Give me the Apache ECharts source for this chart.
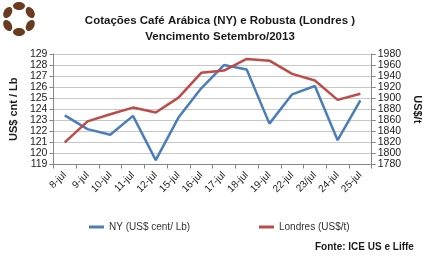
<!DOCTYPE html>
<html><head><meta charset="utf-8">
<script src="https://cdn.jsdelivr.net/npm/echarts@6/dist/echarts.min.js"></script>
<style>html,body{margin:0;padding:0;background:#fff}#c{width:431px;height:256px}</style>
</head><body><div id="c"></div>
<script>
const categories = ['8-jul','9-jul','10-jul','11-jul','12-jul','15-jul','16-jul','17-jul','18-jul','19-jul','22-jul','23/jul','24-jul','25-jul'];
const nyValues = [123.45, 122.2, 121.7, 123.4, 119.4, 123.25, 125.9, 128.0, 127.6, 122.7, 125.35, 126.1, 121.2, 124.8];
const londresValues = [1820, 1858, 1871, 1883, 1874, 1901, 1946, 1950, 1971, 1968, 1944, 1932, 1897, 1908];
const nyName = 'NY (US$ cent/ Lb)';
const londresName = 'Londres (US$/t)';

const font = 'Liberation Sans, Arial, sans-serif';
const chart = echarts.init(document.getElementById('c'), null, {renderer:'canvas'});

// coffee-bean logo (decoration)
const beans = [];
for (let i = 0; i < 6; i++) {
  const a = -Math.PI/2 + i * Math.PI/3;
  beans.push({type:'ellipse', shape:{cx:0, cy:0, rx:6, ry:4}, x: 19 + 13*Math.cos(a), y: 19 + 13*Math.sin(a), rotation: -a + Math.PI/2, style:{fill:'#6a3b20'}});
}

chart.setOption({
  animation:false,
  textStyle:{fontFamily:font},
  title:[{text:'Cotações Café Arábica (NY) e Robusta (Londres )\nVencimento Setembro/2013', left:215, top:8, textAlign:'center',
    textStyle:{fontSize:11.5, fontWeight:'bold', color:'#1a1a1a', lineHeight:16, fontFamily:font}},
    {text:'Fonte: ICE US e Liffe', left:310, top:237, textStyle:{fontSize:10, fontWeight:'bold', color:'#1a1a1a', fontFamily:font}}],
  graphic: beans,
  legend:[{data:[nyName], left:84, top:217, icon:'rect', itemWidth:15, itemHeight:3, itemGap:2,
    textStyle:{fontSize:10, color:'#333', fontFamily:font}},
    {data:[londresName], left:254, top:217, icon:'rect', itemWidth:15, itemHeight:3,
    textStyle:{fontSize:10, color:'#333', fontFamily:font}}],
  grid:{left:42, right:48, top:54, bottom:91.5, containLabel:false},
  xAxis:{type:'category', data:categories, boundaryGap:true,
    axisLine:{lineStyle:{color:'#868686'}}, axisTick:{show:true, alignWithLabel:false, length:4, lineStyle:{color:'#868686'}},
    axisLabel:{rotate:45, fontSize:10, color:'#222', margin:9, interval:0, fontFamily:font}},
  yAxis:[{type:'value', min:119, max:129, interval:1, name:'US$ cnt / Lb', nameLocation:'middle', nameGap:26, nameRotate:90,
    nameTextStyle:{fontSize:11, fontWeight:'bold', color:'#1a1a1a', fontFamily:font},
    axisLine:{show:true, lineStyle:{color:'#868686'}}, axisTick:{show:true, length:4, lineStyle:{color:'#868686'}},
    axisLabel:{fontSize:10.5, color:'#222', margin:6, fontFamily:font},
    splitLine:{lineStyle:{color:'#c8c8c8'}}},
   {type:'value', min:1780, max:1980, interval:20, name:'US$/t', nameLocation:'middle', nameGap:34, nameRotate:-90,
    nameTextStyle:{fontSize:11, fontWeight:'bold', color:'#1a1a1a', fontFamily:font},
    axisLine:{show:true, lineStyle:{color:'#868686'}}, axisTick:{show:true, length:4, lineStyle:{color:'#868686'}},
    axisLabel:{fontSize:10.5, color:'#222', margin:6, fontFamily:font, formatter: v => String(v)},
    splitLine:{show:false}}],
  series:[{name:nyName, type:'line', data:nyValues, yAxisIndex:0, symbol:'none', color:'#4a7ebb', lineStyle:{width:2.5, color:'#4a7ebb'}},
    {name:londresName, type:'line', data:londresValues, yAxisIndex:1, symbol:'none', color:'#be4b48', lineStyle:{width:2.5, color:'#be4b48'}}]
});
</script></body></html>
